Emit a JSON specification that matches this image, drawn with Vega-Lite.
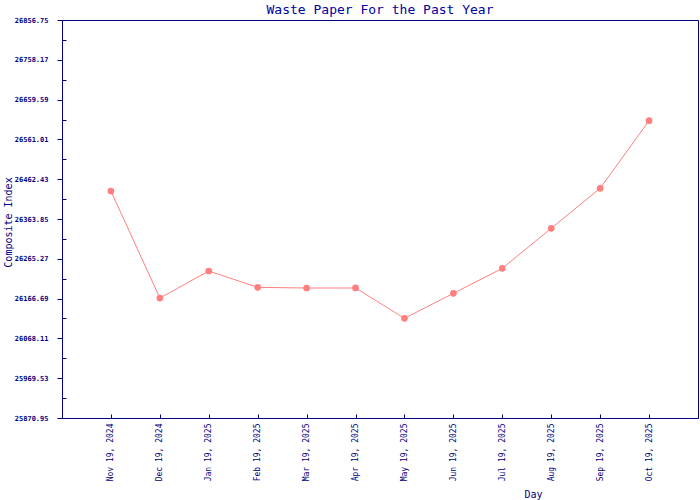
{
  "$schema": "https://vega.github.io/schema/vega-lite/v6.json",
  "width": 636,
  "height": 398,
  "autosize": {"type": "none"},
  "padding": {"left": 62, "top": 20, "right": 2, "bottom": 82},
  "background": "white",
  "title": {
    "text": "Waste Paper For the Past Year",
    "font": "DejaVu Sans Mono",
    "fontSize": 13,
    "fontWeight": "normal",
    "color": "#0000a0",
    "anchor": "middle",
    "offset": -1
  },
  "config": {
    "view": {"stroke": "#000080", "strokeWidth": 1},
    "axis": {
      "domainColor": "#000080",
      "tickColor": "#000080",
      "labelColor": "#000080",
      "titleColor": "#000080",
      "labelFont": "DejaVu Sans Mono",
      "titleFont": "DejaVu Sans Mono",
      "titleFontWeight": "normal",
      "grid": false
    }
  },
  "data": {
    "values": [
      {"month": "Nov 19, 2024", "index": 26433.2},
      {"month": "Dec 19, 2024", "index": 26168.1},
      {"month": "Jan 19, 2025", "index": 26235.0},
      {"month": "Feb 19, 2025", "index": 26194.6},
      {"month": "Mar 19, 2025", "index": 26192.9},
      {"month": "Apr 19, 2025", "index": 26193.0},
      {"month": "May 19, 2025", "index": 26117.8},
      {"month": "Jun 19, 2025", "index": 26179.7},
      {"month": "Jul 19, 2025", "index": 26241.7},
      {"month": "Aug 19, 2025", "index": 26340.8},
      {"month": "Sep 19, 2025", "index": 26439.9},
      {"month": "Oct 19, 2025", "index": 26607.3}
    ]
  },
  "encoding": {
    "x": {
      "field": "month",
      "type": "ordinal",
      "sort": null,
      "scale": {"type": "point", "padding": 1},
      "axis": {
        "title": "Day",
        "titleFontSize": 10,
        "titleX": 471,
        "titleY": 79,
        "titleAnchor": null,
        "titleBaseline": "alphabetic",
        "titleAlign": "center",
        "labelAngle": 270,
        "labelAlign": "right",
        "labelBaseline": "middle",
        "labelFontSize": 8,
        "tickSize": -4,
        "labelPadding": 9
      }
    },
    "y": {
      "field": "index",
      "type": "quantitative",
      "scale": {"domain": [25870.95, 26856.75], "nice": false, "zero": false},
      "axis": {
        "title": "Composite Index",
        "titleFontSize": 10,
        "titleAngle": 270,
        "titleX": -54,
        "titleY": 202,
        "titleAlign": "center",
        "titleBaseline": "middle",
        "values": [25870.95, 25920.24, 25969.53, 26018.82, 26068.11, 26117.4, 26166.69, 26215.98, 26265.27, 26314.56, 26363.85, 26413.14, 26462.43, 26511.72, 26561.01, 26610.3, 26659.59, 26708.88, 26758.17, 26807.46, 26856.75],
        "labelExpr": "abs((datum.value - 25870.95) / 98.58 - round((datum.value - 25870.95) / 98.58)) < 0.1 ? format(datum.value, '.2f') : ''",
        "labelFontSize": 7,
        "labelFontWeight": "bold",
        "labelPadding": 9,
        "tickSize": {"condition": {"test": "abs((datum.value - 25870.95) / 98.58 - round((datum.value - 25870.95) / 98.58)) < 0.1", "value": 5}, "value": -4},
        "labelFlush": false,
        "labelOverlap": false
      }
    }
  },
  "layer": [
    {"mark": {"type": "line", "color": "#ff7f7f", "strokeWidth": 1}},
    {"mark": {"type": "point", "filled": true, "shape": "circle", "color": "#ff7f7f", "opacity": 1, "size": 45}}
  ]
}
